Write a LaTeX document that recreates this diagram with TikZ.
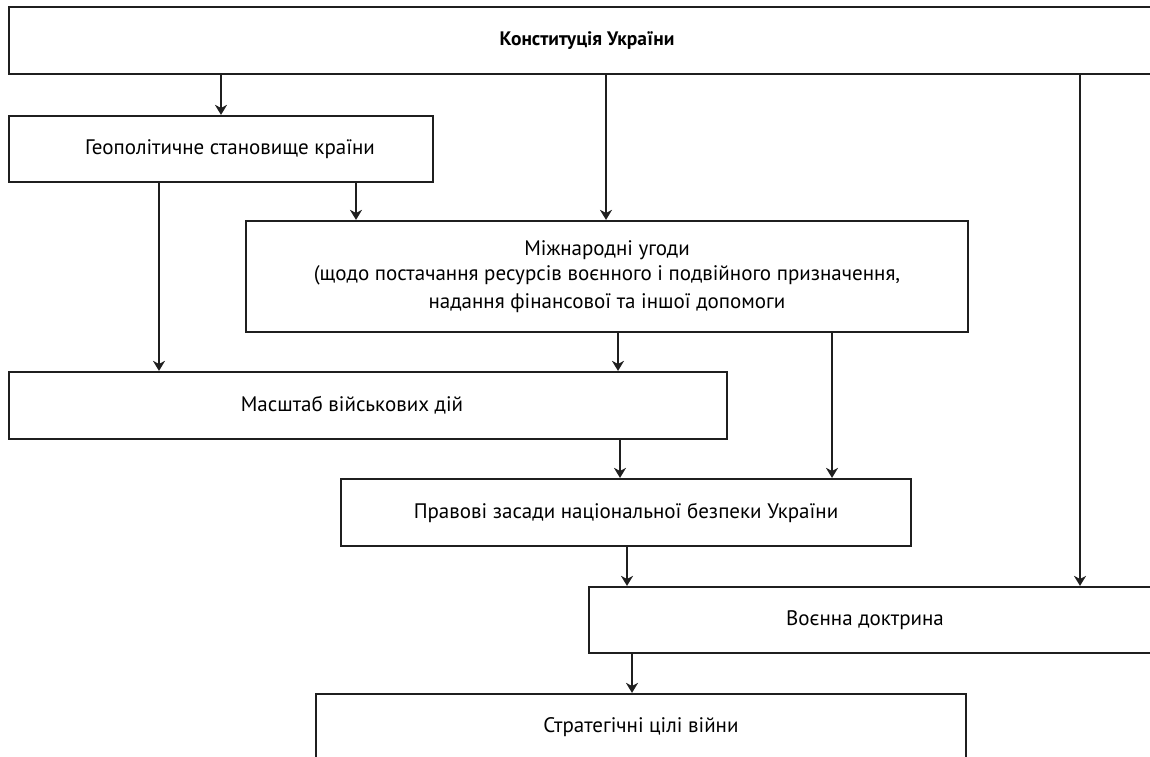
\documentclass[tikz,border=0pt]{standalone}
\usepackage{fontspec}
\setmainfont{PT Sans}
\usetikzlibrary{arrows.meta}
\begin{document}
\begin{tikzpicture}[x=1pt,y=-1pt,
  box/.style={draw=black!88,line width=2.2pt,rectangle,inner sep=0pt,align=center,
    font=\fontsize{21}{28}\selectfont},
  arr/.style={draw=black!88,line width=1.6pt,-{Stealth[length=10pt,width=12pt,inset=3pt]}}]
\useasboundingbox (0,0) rectangle (1150,756);
\fill[white] (0,0) rectangle (1150,756);
\node[box,minimum width=1156pt,minimum height=67pt,font=\fontsize{19.5}{22}\selectfont\bfseries] (top) at (587,40.5) {\raisebox{-4pt}{Конституція України}};
\node[box,minimum width=424pt,minimum height=66pt] (geo) at (221,149) {\hspace*{18pt}Геополітичне становище країни};
\node[box,minimum width=722pt,minimum height=111pt] (mizh) at (607,276.5) {\raisebox{-3pt}{Міжнародні угоди}\\(щодо постачання ресурсів воєнного і подвійного призначення,\\надання фінансової та іншої допомоги};
\node[box,minimum width=718pt,minimum height=67pt] (masht) at (368,405.5) {\hspace*{-32pt}Масштаб військових дій};
\node[box,minimum width=570pt,minimum height=67pt] (prav) at (626,512.5) {Правові засади національної безпеки України};
\node[box,minimum width=576pt,minimum height=66pt] (voen) at (877,620) {\hspace*{-24pt}Воєнна доктрина};
\node[box,minimum width=650pt,minimum height=66pt] (strat) at (641,727) {Стратегічні цілі війни};
\draw[arr] (top.south -| geo.center) -- (geo.north);
\draw[arr] (top.south -| 606,0) -- (mizh.north -| 606,0);
\draw[arr] (top.south -| 1080,0) -- (voen.north -| 1080,0);
\draw[arr] (geo.south -| 356,0) -- (mizh.north -| 356,0);
\draw[arr] (geo.south -| 159,0) -- (masht.north -| 159,0);
\draw[arr] (mizh.south -| 618,0) -- (masht.north -| 618,0);
\draw[arr] (mizh.south -| 832,0) -- (prav.north -| 832,0);
\draw[arr] (masht.south -| 620,0) -- (prav.north -| 620,0);
\draw[arr] (prav.south -| 627,0) -- (voen.north -| 627,0);
\draw[arr] (voen.south -| 632,0) -- (strat.north -| 632,0);
\end{tikzpicture}
\end{document}
